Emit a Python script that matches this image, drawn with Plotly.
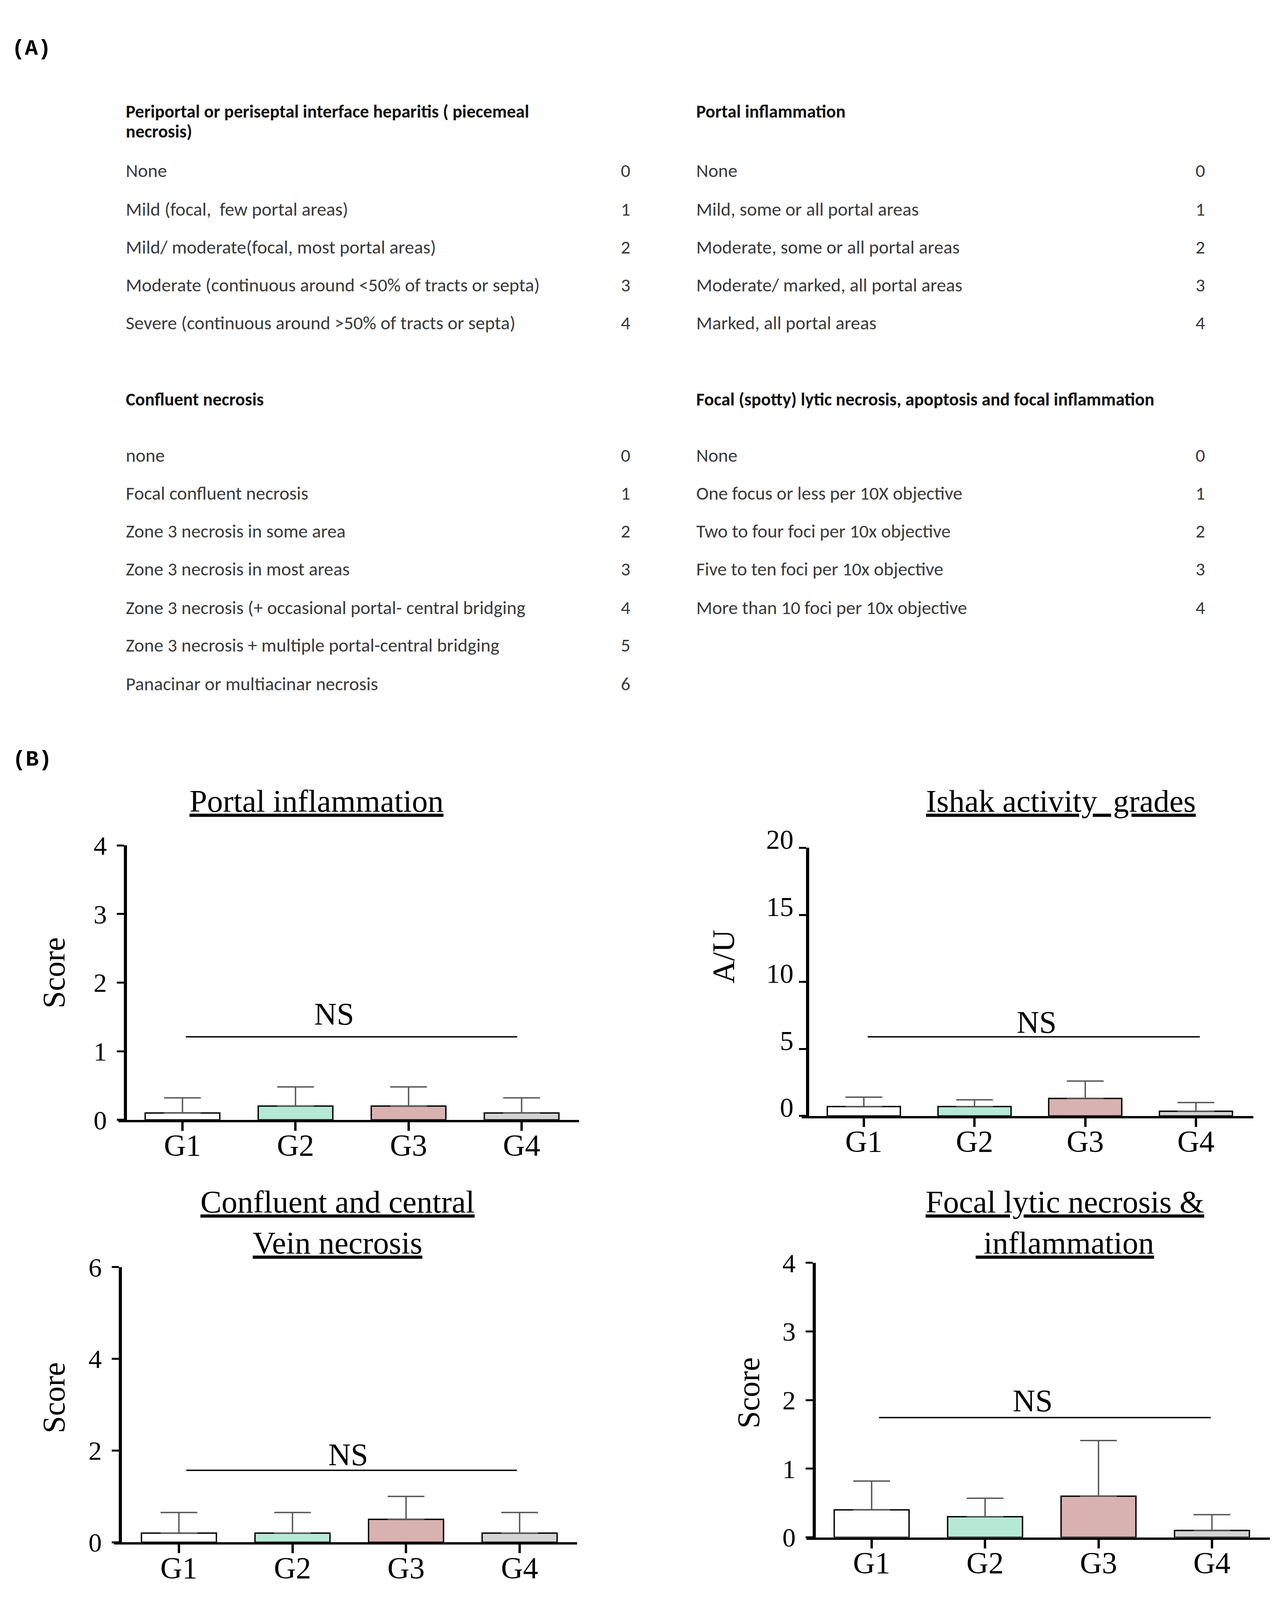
import plotly.graph_objects as go

W, H = 3271, 4409

# ---------------- Panel A data ----------------
pp_header = ["Periportal or periseptal interface heparitis ( piecemeal", "necrosis)"]
pp_items = ["None", "Mild (focal,  few portal areas)", "Mild/ moderate(focal, most portal areas)",
            "Moderate (continuous around &lt;50% of tracts or septa)",
            "Severe (continuous around &gt;50% of tracts or septa)"]
pp_scores = ["0", "1", "2", "3", "4"]

pi_header = ["Portal inflammation"]
pi_items = ["None", "Mild, some or all portal areas", "Moderate, some or all portal areas",
            "Moderate/ marked, all portal areas", "Marked, all portal areas"]
pi_scores = ["0", "1", "2", "3", "4"]

cn_header = ["Confluent necrosis"]
cn_items = ["none", "Focal confluent necrosis", "Zone 3 necrosis in some area",
            "Zone 3 necrosis in most areas", "Zone 3 necrosis (+ occasional portal- central bridging",
            "Zone 3 necrosis + multiple portal-central bridging", "Panacinar or multiacinar necrosis"]
cn_scores = ["0", "1", "2", "3", "4", "5", "6"]

fl_header = ["Focal (spotty) lytic necrosis, apoptosis and focal inflammation"]
fl_items = ["None", "One focus or less per 10X objective", "Two to four foci per 10x objective",
            "Five to ten foci per 10x objective", "More than 10 foci per 10x objective"]
fl_scores = ["0", "1", "2", "3", "4"]

# ---------------- Panel B data ----------------
groups = ["G1", "G2", "G3", "G4"]
colors = ["#ffffff", "#b5e9d6", "#d8b2b0", "#d4d4d4"]

portal_mean = [0.1, 0.2, 0.2, 0.1]
portal_sd = [0.22, 0.28, 0.28, 0.22]

ishak_mean = [0.7, 0.7, 1.3, 0.35]
ishak_sd = [0.7, 0.5, 1.3, 0.65]

conf_mean = [0.2, 0.2, 0.5, 0.2]
conf_sd = [0.45, 0.45, 0.5, 0.45]

focal_mean = [0.4, 0.3, 0.6, 0.1]
focal_sd = [0.42, 0.27, 0.81, 0.23]

y_ranges = [[0, 4], [0, 20], [0, 6], [0, 4]]
y_ticks = [[0, 1, 2, 3, 4], [0, 5, 10, 15, 20], [0, 2, 4, 6], [0, 1, 2, 3, 4]]
y_titles = ["Score", "A/U", "Score", "Score"]
titles = ["<u>Portal inflammation</u>", "<u>Ishak activity  grades</u>",
          "<u>Confluent and central</u><br><u>Vein necrosis</u>",
          "<u>Focal lytic necrosis &amp;</u><br><u> inflammation</u>"]
ns_line_y = [1.21, 5.9, 1.57, 1.745]
ns_line_x = [[0.03, 2.96], [0.035, 3.035], [0.065, 2.976], [0.065, 2.99]]
ns_text_y = [1.54, 7.0, 1.91, 1.99]
ns_text_x = [1.34, 1.56, 1.49, 1.42]

# ---------------- layout geometry (pixels of the 3271x4409 reference) ----------------
def PX(x):
    return x / W

def PY(y):
    return 1 - y / H

geom = [
    dict(xl=303, xr=1482, yax=321, y0=3096, y1=2321, rng=[-0.567, 3.508],
         title=(810, 2196), ytitle=(138, 2681)),
    dict(xl=2052, xr=3208, yax=2067, y0=3085, y1=2328, rng=[-0.561, 3.519],
         title=(2715, 2196), ytitle=(1852, 2635)),
    dict(xl=292, xr=1477, yax=308, y0=4289, y1=3512, rng=[-0.571, 3.506],
         title=(864, 3386), ytitle=(138, 3881)),
    dict(xl=2064, xr=3250, yax=2084, y0=4275, y1=3500, rng=[-0.575, 3.51],
         title=(2725, 3386), ytitle=(1916, 3867)),
]

means = [portal_mean, ishak_mean, conf_mean, focal_mean]
sds = [portal_sd, ishak_sd, conf_sd, focal_sd]

serif = "Times New Roman, Liberation Serif, serif"
sans = "Calibri, Carlito, Liberation Sans, Arial, sans-serif"
mono = "Courier New, Liberation Mono, monospace"

fig = go.Figure()
layout = dict(width=W, height=H, margin=dict(l=0, r=0, t=0, b=0, pad=0),
              paper_bgcolor="white", plot_bgcolor="white", showlegend=False)
annotations = []
shapes = []

for i, g in enumerate(geom):
    n = "" if i == 0 else str(i + 1)
    xa, ya = "x" + n, "y" + n
    fig.add_trace(go.Bar(
        x=[0, 1, 2, 3], y=means[i], width=0.66,
        marker=dict(color=colors, line=dict(color="black", width=3.5)),
        error_y=dict(type="data", array=sds[i], arrayminus=[0, 0, 0, 0], symmetric=False,
                     color="#555555", thickness=3.5, width=47),
        xaxis=xa, yaxis=ya, hoverinfo="skip"))
    layout["xaxis" + n] = dict(
        domain=[PX(g["xl"]), PX(g["xr"])], anchor=ya, range=g["rng"],
        tickvals=[0, 1, 2, 3], ticktext=groups, showgrid=False, zeroline=False,
        showline=True, linecolor="black", linewidth=6, ticks="outside", ticklen=22,
        tickwidth=6, tickcolor="black", ticklabelstandoff=-30,
        tickfont=dict(family=serif, size=78, color="black"), fixedrange=True)
    ydict = dict(
        domain=[PY(g["y0"]), PY(g["y1"])], anchor="free", position=PX(g["yax"]),
        range=y_ranges[i], tickvals=y_ticks[i], showgrid=False, zeroline=False,
        showline=True, linecolor="black", linewidth=8, ticks="outside", ticklen=18,
        tickwidth=5, tickcolor="black",
        tickfont=dict(family=serif, size=68, color="black"), fixedrange=True,
        ticklabelstandoff=12)
    if i == 1:
        ydict["ticklabelshift"] = -22
        ydict["ticklabelstandoff"] = 0
        ydict["tickfont"] = dict(family=serif, size=70, color="black")
    layout["yaxis" + n] = ydict

    shapes.append(dict(type="line", xref=xa, yref=ya, x0=ns_line_x[i][0], x1=ns_line_x[i][1],
                       y0=ns_line_y[i], y1=ns_line_y[i], line=dict(color="black", width=3.5)))
    annotations.append(dict(xref=xa, yref=ya, x=ns_text_x[i], y=ns_text_y[i], text="NS",
                            showarrow=False, xanchor="center", yanchor="middle",
                            font=dict(family=serif, size=80, color="black")))
    annotations.append(dict(xref="paper", yref="paper", x=PX(g["title"][0]), y=PY(g["title"][1]),
                            text=titles[i], showarrow=False, xanchor="center", yanchor="middle",
                            font=dict(family=serif, size=81, color="black")))
    annotations.append(dict(xref="paper", yref="paper", x=PX(g["ytitle"][0]), y=PY(g["ytitle"][1]),
                            text=y_titles[i], showarrow=False, textangle=-90,
                            xanchor="center", yanchor="middle",
                            font=dict(family=serif, size=80, color="black")))

def txt(x, y, s, size=48, bold=False, anchor="left", family=sans, color="#3a3a3a"):
    annotations.append(dict(xref="paper", yref="paper", x=PX(x), y=PY(y),
                            text=("<b>%s</b>" % s) if bold else s, showarrow=False,
                            xanchor=anchor, yanchor="middle",
                            font=dict(family=family, size=size, color=color)))

txt(80, 72, "(A)", size=56, bold=True, anchor="center", family=mono, color="black")
txt(82, 2079, "(B)", size=56, bold=True, anchor="center", family=mono, color="black")

blocks = [
    (320, 1601, [248, 305], pp_header, [415, 525, 632, 739, 846], pp_items, pp_scores),
    (1780, 3072, [248], pi_header, [415, 525, 632, 739, 846], pi_items, pi_scores),
    (320, 1601, [1061], cn_header, [1219, 1326, 1433, 1540, 1650, 1755, 1865], cn_items, cn_scores),
    (1780, 3072, [1061], fl_header, [1219, 1326, 1433, 1540, 1650], fl_items, fl_scores),
]
for xl, xn, hy, hdr, ry, items, scores in blocks:
    for yy, h in zip(hy, hdr):
        txt(xl, yy, h, size=46, bold=True, color="#111111")
    for yy, it, sc in zip(ry, items, scores):
        txt(xl, yy, it, size=48)
        txt(xn, yy, sc, size=48, anchor="center")

layout["annotations"] = annotations
layout["shapes"] = shapes
fig.update_layout(**layout)

# fit the figure to the actual browser viewport so nothing is cut off
post = """
document.documentElement.style.margin='0';
document.body.style.margin='0';
document.body.style.overflow='hidden';
var gd=document.getElementById('{plot_id}');
Plotly.relayout(gd,{width:window.innerWidth,height:window.innerHeight});
"""
fig.write_html("out.html", post_script=post, config={"displayModeBar": False})
